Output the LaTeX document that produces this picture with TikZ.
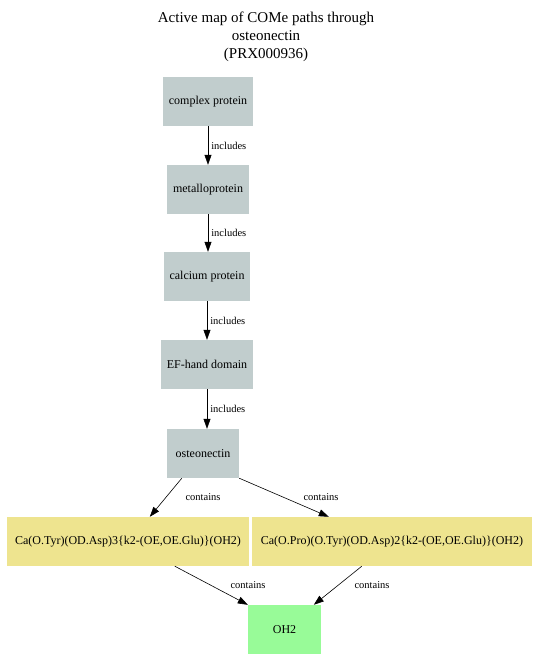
\documentclass[tikz,border=0pt]{standalone}
\usepackage{fontspec}
\setmainfont{Liberation Serif}
\usetikzlibrary{arrows.meta}
\definecolor{grayfill}{HTML}{C1CDCD}
\definecolor{yellowfill}{HTML}{EEE48F}
\definecolor{greenfill}{HTML}{98FB98}
\tikzset{
  box/.style={rectangle, inner sep=0pt, minimum height=49bp, font=\fontsize{12bp}{14bp}\selectfont},
  graybox/.style={box, fill=grayfill},
  yellowbox/.style={box, fill=yellowfill},
  greenbox/.style={box, fill=greenfill},
  edge/.style={-{Triangle[length=10bp,width=7bp]}, line width=0.6bp},
  elabel/.style={font=\fontsize{10.5bp}{12bp}\selectfont, inner sep=0pt},
  titletext/.style={font=\fontsize{15bp}{18bp}\selectfont, align=center, inner sep=0pt}
}
\begin{document}
\begin{tikzpicture}[x=1bp,y=-1bp]
\useasboundingbox (0,0) rectangle (534,670);
\node[titletext] (title) at (266,36.5) {Active map of COMe paths through\\osteonectin\\(PRX000936)};
\node[graybox, minimum width=90bp] (cp) at (208,101.5) {complex protein};
\node[graybox, minimum width=82bp] (mp) at (208,189.5) {metalloprotein};
\node[graybox, minimum width=86bp] (ca) at (207,276.5) {calcium protein};
\node[graybox, minimum width=92bp] (ef) at (207,364.5) {EF-hand domain};
\node[graybox, minimum width=72bp] (os) at (203,453.5) {osteonectin};
\node[yellowbox, minimum width=242bp] (c1) at (128,541.5) {Ca(O.Tyr)(OD.Asp)3\{k2-(OE,OE.Glu)\}(OH2)};
\node[yellowbox, minimum width=280bp] (c2) at (392,541.5) {Ca(O.Pro)(O.Tyr)(OD.Asp)2\{k2-(OE,OE.Glu)\}(OH2)};
\node[greenbox, minimum width=73bp] (oh) at (284.5,629.5) {OH2};

\draw[edge] (cp.south) -- (cp.south |- mp.north) node[elabel, midway, anchor=west, xshift=3bp] (l1) {includes};
\draw[edge] (mp.south) -- (mp.south |- ca.north) node[elabel, midway, anchor=west, xshift=3bp] (l2) {includes};
\draw[edge] (ca.south) -- (ca.south |- ef.north) node[elabel, midway, anchor=west, xshift=3bp] (l3) {includes};
\draw[edge] (ef.south) -- (ef.south |- os.north) node[elabel, midway, anchor=west, xshift=3bp] (l4) {includes};
\draw[edge] ([xshift=15bp]os.south west) -- ([xshift=143bp]c1.north west);
\draw[edge] (os.south east) -- ([xshift=77bp]c2.north west);
\draw[edge] ([xshift=168bp]c1.south west) -- (oh.north west);
\draw[edge] ([xshift=110bp]c2.south west) -- ([xshift=66bp]oh.north west);
\node[elabel] (l5) at (203,497.5) {contains};
\node[elabel] (l6) at (321,497.5) {contains};
\node[elabel] (l7) at (248,585.5) {contains};
\node[elabel] (l8) at (372,585.5) {contains};
\end{tikzpicture}
\end{document}
